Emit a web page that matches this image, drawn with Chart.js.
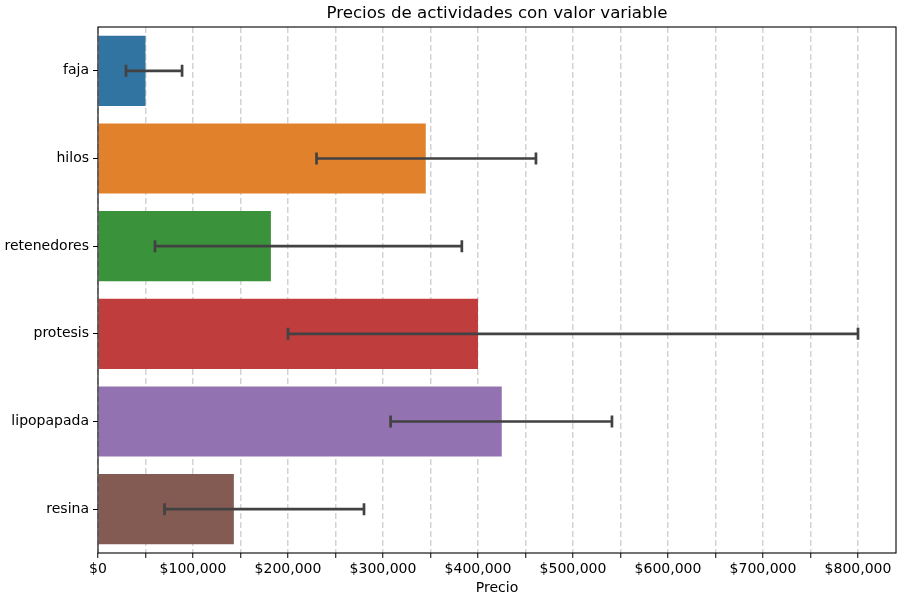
<!DOCTYPE html>
<html>
<head>
<meta charset="utf-8">
<script src="https://cdn.jsdelivr.net/npm/chart.js@4"></script>
<style>
  html, body { margin: 0; padding: 0; background: #fff; }
  #wrap { width: 900px; height: 600px; }
</style>
</head>
<body>
<div id="wrap"><canvas id="chart"></canvas></div>
<script>
// Datos
const categorias = ['faja', 'hilos', 'retenedores', 'protesis', 'lipopapada', 'resina'];
const precios = [50000, 345000, 182000, 400000, 425000, 143000];
const errorMin = [29500, 230000, 60000, 200000, 308000, 70000];
const errorMax = [88500, 461000, 383000, 800000, 541000, 280000];
const colores = ['#3274a1', '#e1812c', '#3a923a', '#c03d3e', '#9372b2', '#845b53'];

const FONT = 'DejaVu Sans';

// Barras de error (intervalos) dibujadas con las escalas del gráfico
const errorBars = {
    id: 'errorBars',
    afterDatasetsDraw(chart) {
        const ctx = chart.ctx;
        const x = chart.scales.x;
        const y = chart.scales.y;
        ctx.save();
        ctx.strokeStyle = '#424242';
        ctx.lineWidth = 2.7;
        ctx.lineCap = 'butt';
        categorias.forEach((c, i) => {
            const yc = y.getPixelForValue(i);
            const x0 = x.getPixelForValue(errorMin[i]);
            const x1 = x.getPixelForValue(errorMax[i]);
            ctx.beginPath();
            ctx.moveTo(x0, yc);
            ctx.lineTo(x1, yc);
            ctx.moveTo(x0, yc - 6);
            ctx.lineTo(x0, yc + 6);
            ctx.moveTo(x1, yc - 6);
            ctx.lineTo(x1, yc + 6);
            ctx.stroke();
        });
        ctx.restore();
    }
};

// Marco del área y título centrado sobre los ejes
const marco = {
    id: 'marco',
    afterDraw(chart) {
        const { ctx, chartArea: a } = chart;
        ctx.save();
        ctx.strokeStyle = '#000';
        ctx.lineWidth = 1.1;
        ctx.strokeRect(a.left, a.top, a.right - a.left, a.bottom - a.top);
        ctx.fillStyle = '#000';
        ctx.font = '16.7px "' + FONT + '"';
        ctx.textAlign = 'center';
        ctx.textBaseline = 'bottom';
        ctx.fillText('Precios de actividades con valor variable', (a.left + a.right) / 2, a.top - 5);
        ctx.restore();
    }
};

const ctx = document.getElementById('chart').getContext('2d');
const chart = new Chart(ctx, {
    type: 'bar',
    data: {
        labels: categorias,
        datasets: [{
            data: precios,
            backgroundColor: colores,
            borderWidth: 0,
            barPercentage: 0.8,
            categoryPercentage: 1.0
        }]
    },
    options: {
        indexAxis: 'y',
        responsive: true,
        maintainAspectRatio: false,
        animation: false,
        layout: { padding: { top: 27, right: 4, left: 0, bottom: 3 } },
        scales: {
            x: {
                min: 0,
                max: 840000,
                afterBuildTicks(scale) {
                    const t = [];
                    for (let v = 0; v <= 840000; v += 50000) t.push({ value: v });
                    scale.ticks = t;
                },
                afterFit(scale) { scale.height = 44; },
                ticks: {
                    autoSkip: false,
                    maxRotation: 0,
                    padding: 3,
                    color: '#000',
                    font: { family: FONT, size: 14 },
                    callback: (v) => (v % 100000 === 0 ? '$' + v.toLocaleString('en-US') : '')
                },
                grid: {
                    color: '#d3d3d3',
                    lineWidth: 1.5,
                    tickColor: '#000',
                    tickLength: 5,
                    tickWidth: 1,
                    tickBorderDash: [],
                    drawTicks: true
                },
                border: { display: false, dash: [6, 3] },
                title: {
                    display: true,
                    text: 'Precio',
                    color: '#000',
                    font: { family: FONT, size: 14 },
                    padding: { top: 0, bottom: 0 }
                }
            },
            y: {
                afterFit(scale) { scale.width = 98; },
                ticks: {
                    padding: 4,
                    color: '#000',
                    font: { family: FONT, size: 14 }
                },
                grid: {
                    offset: false,
                    drawOnChartArea: false,
                    tickColor: '#000',
                    tickLength: 5,
                    tickWidth: 1
                },
                border: { display: false }
            }
        },
        plugins: {
            legend: { display: false },
            title: { display: false },
            tooltip: { enabled: false }
        }
    },
    plugins: [errorBars, marco]
});
</script>
</body>
</html>
